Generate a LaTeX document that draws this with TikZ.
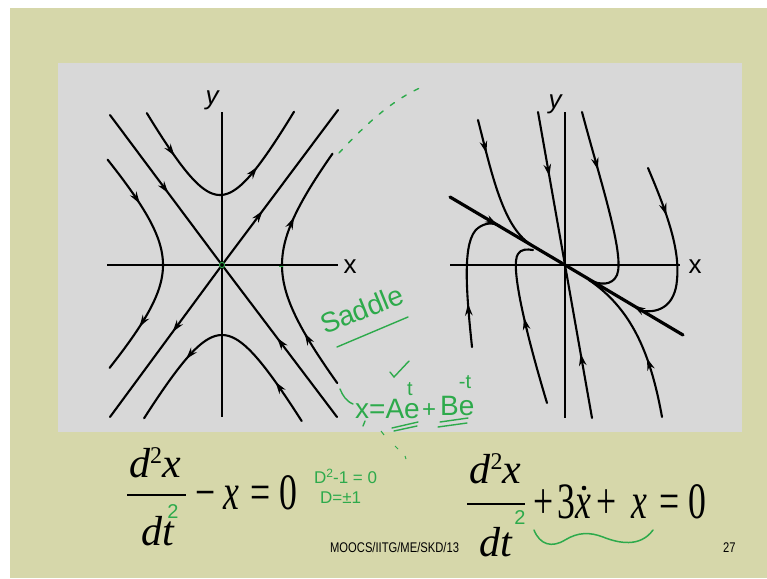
\documentclass[tikz,border=0pt]{standalone}
\usepackage{fontspec}
\setmainfont{Liberation Serif}
\newfontfamily\sansf{Liberation Sans}
\usetikzlibrary{arrows.meta,decorations.markings}
\definecolor{khaki}{RGB}{214,215,170}
\definecolor{panel}{RGB}{216,216,216}
\definecolor{pen}{RGB}{45,170,75}
\tikzset{
  curve/.style={line width=2.1pt, line cap=round},
  thick line/.style={line width=3.2pt, line cap=round},
  axisline/.style={line width=2.4pt},
  ar/.style={postaction={decorate},decoration={markings,mark=at position #1 with {\arrow{Stealth[length=12pt,width=7.5pt]}}}},
  axlab/.style={inner sep=0pt, font=\sansf\fontsize{26}{26}\selectfont},
  big/.style={inner sep=0pt, anchor=base, font=\fontsize{51}{51}\selectfont, xscale=0.7},
  fracpart/.style={inner sep=0pt, anchor=base, font=\fontsize{42}{42}\selectfont},
  hand/.style={pen, inner sep=0pt, font=\sansf\fontsize{#1}{#1}\selectfont},
  penline/.style={pen, line width=1.4pt, line cap=round},
}
\begin{document}
\begin{tikzpicture}[x=1pt,y=-1pt]
\useasboundingbox (0,0) rectangle (767,578);
\fill[white] (0,0) rectangle (767,578);
\fill[khaki] (10,8) rectangle (767,578);
\fill[panel] (58,63) rectangle (742,432);

% ---------- left portrait (saddle) ----------
\coordinate (O1) at (222,265);
\draw[axisline] (107,265) -- (338,265);
\draw[axisline] (222,112) -- (222,417);
\node[axlab] (xl1) at (350,267) {x};
\node[axlab, font=\sansf\itshape\fontsize{26}{26}\selectfont] (yl1) at (212,100) {y};
% asymptotes
\draw[curve,ar=0.52] (110,115) -- (O1);
\draw[curve,ar=0.52] (337,417) -- (O1);
\draw[curve,ar=0.35] (O1) -- (338,110);
\draw[curve,ar=0.44] (O1) -- (110,417);
% top hyperbola
\draw[curve,ar=0.45] plot[domain=0:1.41,samples=30,variable=\t] ({220-38*sinh(1.41-\t)},{265-70*cosh(1.41-\t)});
\draw[curve,ar=0.42] plot[domain=0:1.42,samples=30,variable=\t] ({220+38*sinh(\t)},{265-70*cosh(\t)});
% bottom hyperbola
\draw[curve,ar=0.38] plot[domain=0:1.42,samples=30,variable=\t] ({222-40*sinh(\t)},{265+70*cosh(\t)});
\draw[curve,ar=0.39] plot[domain=0:1.44,samples=30,variable=\t] ({222+40*sinh(1.44-\t)},{265+70*cosh(1.44-\t)});
% left hyperbola
\draw[curve,ar=0.45] plot[domain=0:1.3,samples=30,variable=\t] ({220-57*cosh(1.3-\t)},{265-62*sinh(1.3-\t)});
\draw[curve,ar=0.57] plot[domain=0:1.28,samples=30,variable=\t] ({220-57*cosh(\t)},{265+62*sinh(\t)});
% right hyperbola
\draw[curve,ar=0.45] plot[domain=0:1.27,samples=30,variable=\t] ({222+60*cosh(1.27-\t)},{265+72*sinh(1.27-\t)});
\draw[curve,ar=0.4] plot[domain=0:1.22,samples=30,variable=\t] ({222+60*cosh(\t)},{265-72*sinh(\t)});
% green marks
\draw[pen, line width=1pt] (O1) circle (2.6);
\draw[pen, line width=1pt] (279,266) -- (283,266);

% ---------- right portrait (node) ----------
\coordinate (O2) at (565,265);
\draw[axisline] (450,265) -- (680,265);
\draw[axisline] (565,112) -- (565,418);
\node[axlab] (xl2) at (695,267) {x};
\node[axlab, font=\sansf\itshape\fontsize{26}{26}\selectfont] (yl2) at (555,104) {y};
% slow eigen line
\draw[thick line,ar=0.41] (450,197) -- (O2);
\draw[thick line,ar=0.42] (683,335) -- (O2);
% fast line
\draw[curve,ar=0.42] (538,112) -- (O2);
\draw[curve,ar=0.42] (592,418) -- (O2);
% trajectories
\draw[curve,ar=0.25] (478,120) .. controls (492,175) and (503,226) .. (530,244);
\draw[curve,ar=0.3] (582,112) .. controls (600,180) and (625,255) .. (617,275) .. controls (612,286) and (600,285) .. (589,280);
\draw[curve,ar=0.3] (648,168) .. controls (668,215) and (680,250) .. (677,280) .. controls (675,305) and (660,313) .. (643,311);
\draw[curve,ar=0.38] (662,417) .. controls (650,350) and (630,308) .. (589,280);
\draw[curve,ar=0.3] (472,347) .. controls (466,290) and (462,240) .. (478,228) .. controls (485,223) and (492,222) .. (500,226);
\draw[curve,ar=0.52] (547,403) .. controls (525,330) and (510,265) .. (518,254) .. controls (521,249) and (527,249) .. (533,250);

% ---------- green handwriting ----------
\draw[penline, dash pattern=on 5pt off 9pt] (339,153) .. controls (365,125) and (392,100) .. (422,87);
\node[hand=28, rotate=22, anchor=base west] (saddle) at (325,335) {Saddle};
\draw[penline] (337,347) -- (408,317);
\draw[penline] (340,389) .. controls (343,396) and (346,401) .. (353,404);
\node[hand=28, anchor=base west] (xae) at (355,418) {x=Ae};
\node[hand=20] (sup1) at (410,389) {t};
\draw[penline] (390,372) -- (394,377) -- (409,361);
\node[hand=24] (plus) at (429,411) {+};
\node[hand=28, anchor=base west] (be) at (440,415) {Be};
\node[hand=20] (sup2) at (465,382) {-t};
\draw[penline] (392,428) -- (418,422);
\draw[penline] (394,431) -- (417,426);
\draw[penline] (440,422) -- (468,418);
\draw[penline] (438,427) -- (467,423);
\draw[penline] (365,421) -- (363,426);
\draw[pen, line width=1pt] (381,431) -- (384,435);
\draw[pen, line width=1pt] (395,446) -- (398,449);
\draw[pen, line width=1pt] (405,456) -- (406,459);
\node[hand=17, anchor=base west] (dchar) at (314,483) {D\raisebox{6pt}{\fontsize{12}{12}\selectfont 2}-1 = 0};
\node[hand=17, anchor=base west] (droot) at (320,503) {D=±1};

% ---------- left equation ----------
\node[fracpart] (n1) at (155,477) {\textit{d}\raisebox{14pt}{\fontsize{24}{24}\selectfont 2}\textit{x}};
\draw[line width=1.5pt] (127,495) -- (186,495);
\node[fracpart] (d1) at (158,545) {\textit{dt}};
\node[hand=20] (g1) at (173,512) {2};
\node[big] (m1) at (205.5,509) {\char"2212};
\node[big] (x1) at (231,509) {\textit{x}};
\node[big] (e1) at (260.5,509) {=};
\node[big] (z1) at (288.5,509) {0};

% ---------- right equation ----------
\node[fracpart] (n2) at (495.5,483) {\textit{d}\raisebox{14pt}{\fontsize{24}{24}\selectfont 2}\textit{x}};
\draw[line width=1.5pt] (467,504) -- (525,504);
\node[fracpart] (d2) at (496.5,556) {\textit{dt}};
\node[hand=20] (g2) at (520,518) {2};
\node[big] (p2) at (544,518) {+};
\node[big] (t2) at (566,518) {3};
\node[big] (x2) at (583,518) {\textit{x}};
\fill (584,488) circle (2.3);
\node[big] (q2) at (607,518) {+};
\node[big] (x3) at (639,518) {\textit{x}};
\node[big] (e2) at (670,518) {=};
\node[big] (z2) at (697.5,518) {0};
\draw[pen, line width=1.5pt, line cap=round] (534,530) .. controls (540,545) and (552,548) .. (565,540) .. controls (578,532) and (590,532) .. (603,537) .. controls (618,543) and (640,548) .. (653,530);

% ---------- footer ----------
\node[inner sep=0pt, anchor=base west, font=\sansf\fontsize{14}{14}\selectfont, xscale=0.8] (foot) at (330,552) {MOOCS/IITG/ME/SKD/13};
\node[inner sep=0pt, anchor=base west, font=\sansf\fontsize{14}{14}\selectfont, xscale=0.8] (pg) at (723,552) {27};
\end{tikzpicture}
\end{document}
